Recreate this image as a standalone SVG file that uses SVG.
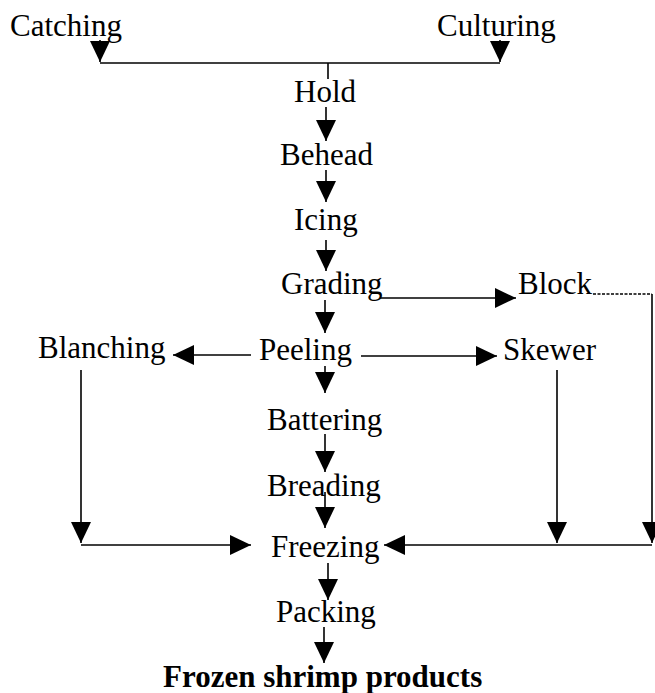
<svg xmlns="http://www.w3.org/2000/svg" width="655" height="693" viewBox="0 0 655 693">
<style>
  text { font-family: "Liberation Serif", "Times New Roman", serif; font-size: 31px; fill: #000; }
  .bold { font-weight: bold; }
  .c { stroke: #000; stroke-width: 1.6; fill: none; }
  .a { marker-end: url(#ah); }
  .dot { stroke-dasharray: 3 1.5; stroke-width: 1.3; }
</style>
<defs>
  <marker id="ah" markerUnits="userSpaceOnUse" markerWidth="22" markerHeight="20" refX="21" refY="10" orient="auto">
    <path d="M0,0 L21,10 L0,20 z" fill="#000"/>
  </marker>
</defs>
<rect width="655" height="693" fill="#fff"/>
<g id="connectors">
  <line class="c a" x1="100" y1="40" x2="100" y2="62"/>
  <line class="c a" x1="500" y1="40" x2="500" y2="62"/>
  <line class="c" x1="100" y1="63" x2="500" y2="63"/>
  <line class="c" x1="328" y1="63" x2="328" y2="79"/>
  <line class="c a" x1="326" y1="107" x2="326" y2="141"/>
  <line class="c a" x1="326" y1="170" x2="326" y2="202"/>
  <line class="c a" x1="326" y1="240" x2="326" y2="271"/>
  <line class="c a" x1="325" y1="300" x2="325" y2="333"/>
  <line class="c a" x1="325" y1="366" x2="325" y2="393"/>
  <line class="c a" x1="325" y1="434" x2="325" y2="472"/>
  <line class="c a" x1="325" y1="492" x2="325" y2="528"/>
  <line class="c a" x1="328" y1="563" x2="328" y2="600"/>
  <line class="c a" x1="324" y1="627" x2="324" y2="663"/>
  <line class="c a" x1="380" y1="298" x2="516" y2="298"/>
  <line class="c a" x1="251" y1="355" x2="173" y2="355"/>
  <line class="c a" x1="361" y1="356" x2="497" y2="356"/>
  <line class="c a" x1="81" y1="370" x2="81" y2="543"/>
  <line class="c a" x1="81" y1="545" x2="251" y2="545"/>
  <line class="c a" x1="557" y1="370" x2="557" y2="543"/>
  <line class="c dot" x1="593" y1="294" x2="652" y2="294"/>
  <line class="c a" x1="652" y1="294" x2="652" y2="543"/>
  <line class="c a" x1="652" y1="545" x2="384" y2="545"/>
</g>
<g id="catching"><text x="10" y="36">Catching</text></g>
<g id="culturing"><text x="437" y="36">Culturing</text></g>
<g id="hold"><text x="294" y="102">Hold</text></g>
<g id="behead"><text x="280" y="165">Behead</text></g>
<g id="icing"><text x="294" y="230">Icing</text></g>
<g id="grading"><text x="281" y="294">Grading</text></g>
<g id="block"><text x="518" y="294">Block</text></g>
<g id="blanching"><text x="38" y="358">Blanching</text></g>
<g id="peeling"><text x="259" y="360">Peeling</text></g>
<g id="skewer"><text x="503" y="360">Skewer</text></g>
<g id="battering"><text x="267" y="430">Battering</text></g>
<g id="breading"><text x="267" y="496">Breading</text></g>
<g id="freezing"><text x="271" y="557">Freezing</text></g>
<g id="packing"><text x="276" y="622">Packing</text></g>
<g id="products"><text class="bold" x="163" y="687">Frozen shrimp products</text></g>
</svg>
